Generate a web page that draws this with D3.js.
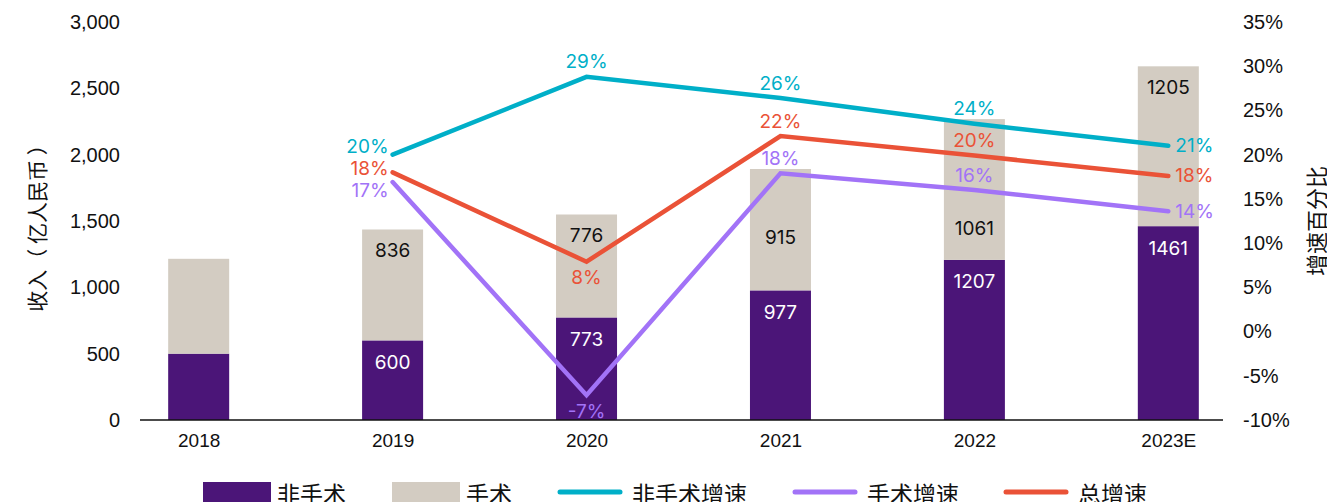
<!DOCTYPE html>
<html>
<head>
<meta charset="utf-8">
<script src="https://cdn.jsdelivr.net/npm/d3@7"></script>
<style>
  html, body { margin: 0; padding: 0; background: #fff; }
  svg { display: block; }
</style>
</head>
<body>
<div id="chart"></div>
<script>
const width = 1327;
const height = 502;

// data (亿人民币 / %)
const years = ["2018", "2019", "2020", "2021", "2022", "2023E"];
const nonSurgical = [500, 600, 773, 977, 1207, 1461];
const surgical = [715, 836, 776, 915, 1061, 1205];
const growthYears = ["2019", "2020", "2021", "2022", "2023E"];
const nonSurgicalGrowth = [20, 28.8, 26.4, 23.5, 21.0];
const surgicalGrowth = [16.9, -7.2, 17.9, 16.0, 13.6];
const totalGrowth = [18.0, 7.9, 22.1, 19.9, 17.6];
const leftTicks = [0, 500, 1000, 1500, 2000, 2500, 3000];
const rightTicks = [-10, -5, 0, 5, 10, 15, 20, 25, 30, 35];

const purple = "#4b1578";
const beige = "#d3ccc2";
const cyan = "#00afc8";
const lavender = "#a273f7";
const red = "#ea5237";

const numFont = "Inter, 'Liberation Sans', sans-serif";
const axisFont = "'Liberation Sans', Arial, sans-serif";
const cjkFont = "'Noto Sans CJK SC', sans-serif";

const svg = d3.select("#chart")
  .append("svg")
  .attr("width", width)
  .attr("height", height);

const x = d3.scalePoint().domain(years).range([140.5, 1226.5]).padding(0.3);
const yL = d3.scaleLinear().domain([0, 3000]).range([420, 22]);
const yR = d3.scaleLinear().domain([-10, 35]).range([420, 22]);
const barW = 61;

// axes (labels only)
svg.append("g")
  .attr("transform", "translate(120,0)")
  .call(d3.axisLeft(yL).tickValues(leftTicks).tickSize(0).tickPadding(0).tickFormat(d3.format(",")))
  .call(g => g.select(".domain").remove())
  .selectAll("text")
  .attr("font-family", axisFont)
  .attr("font-size", 20)
  .attr("fill", "#111");

svg.append("g")
  .attr("transform", "translate(1243,0)")
  .call(d3.axisRight(yR).tickValues(rightTicks).tickSize(0).tickPadding(0).tickFormat(d => d + "%"))
  .call(g => g.select(".domain").remove())
  .selectAll("text")
  .attr("font-family", axisFont)
  .attr("font-size", 20)
  .attr("fill", "#111");

svg.append("g")
  .attr("transform", "translate(0,420)")
  .call(d3.axisBottom(x).tickSize(0).tickPadding(14))
  .call(g => g.select(".domain").remove())
  .selectAll("text")
  .attr("font-family", axisFont)
  .attr("font-size", 19)
  .attr("fill", "#111");

// axis titles
svg.append("text")
  .attr("transform", "translate(36,223) rotate(-90)")
  .attr("text-anchor", "middle")
  .attr("dominant-baseline", "central")
  .attr("font-family", cjkFont)
  .attr("font-size", 21)
  .attr("fill", "#111")
  .text("收入（ 亿人民币 ）");

svg.append("text")
  .attr("transform", "translate(1315,221) rotate(-90)")
  .attr("text-anchor", "middle")
  .attr("dominant-baseline", "central")
  .attr("font-family", cjkFont)
  .attr("font-size", 22)
  .attr("fill", "#111")
  .text("增速百分比");

// stacked bars
const bars = years.map((yr, i) => ({ yr, a: nonSurgical[i], b: surgical[i] }));

svg.append("g").selectAll("rect")
  .data(bars)
  .join("rect")
  .attr("x", d => x(d.yr) - barW / 2)
  .attr("width", barW)
  .attr("y", d => yL(d.a))
  .attr("height", d => yL(0) - yL(d.a))
  .attr("fill", purple);

svg.append("g").selectAll("rect")
  .data(bars)
  .join("rect")
  .attr("x", d => x(d.yr) - barW / 2)
  .attr("width", barW)
  .attr("y", d => yL(d.a + d.b))
  .attr("height", d => yL(d.a) - yL(d.a + d.b))
  .attr("fill", beige);

// baseline
svg.append("line")
  .attr("x1", 140).attr("x2", 1223)
  .attr("y1", 420).attr("y2", 420)
  .attr("stroke", "#111")
  .attr("stroke-width", 1.5);

// bar value labels (2018 has none); some surgical labels pushed down clear of the lines
const extraDrop = { "2021": 48, "2022": 88 };
const labelled = bars.slice(1);

svg.append("g").selectAll("text")
  .data(labelled)
  .join("text")
  .attr("x", d => x(d.yr))
  .attr("y", d => yL(d.a) + 22)
  .attr("text-anchor", "middle")
  .attr("dominant-baseline", "central")
  .attr("font-family", numFont)
  .attr("font-size", 19)
  .attr("fill", "#fff")
  .text(d => d.a);

svg.append("g").selectAll("text")
  .data(labelled)
  .join("text")
  .attr("x", d => x(d.yr))
  .attr("y", d => yL(d.a + d.b) + 21 + (extraDrop[d.yr] || 0))
  .attr("text-anchor", "middle")
  .attr("dominant-baseline", "central")
  .attr("font-family", numFont)
  .attr("font-size", 19)
  .attr("fill", "#111")
  .text(d => d.b);

// growth lines
const series = [
  { values: nonSurgicalGrowth, color: cyan, place: ["left", "above", "above", "above", "right"] },
  { values: totalGrowth, color: red, place: ["leftmid", "below", "above", "above", "right"] },
  { values: surgicalGrowth, color: lavender, place: ["leftlow", "below", "above", "above", "right"] },
];

const line = d3.line()
  .x(d => x(d.yr))
  .y(d => yR(d.v));

series.forEach(s => {
  const pts = growthYears.map((yr, i) => ({ yr, v: s.values[i], place: s.place[i] }));

  svg.append("path")
    .datum(pts)
    .attr("d", line)
    .attr("fill", "none")
    .attr("stroke", s.color)
    .attr("stroke-width", 4.5)
    .attr("stroke-linecap", "round")
    .attr("stroke-linejoin", "miter");

  svg.append("g").selectAll("text")
    .data(pts)
    .join("text")
    .attr("x", d => {
      const cx = x(d.yr);
      if (d.place.startsWith("left")) return cx - 4;
      if (d.place === "right") return cx + 7;
      return cx;
    })
    .attr("y", d => {
      const cy = yR(d.v);
      if (d.place === "above") return cy - 15;
      if (d.place === "below") return cy + 16;
      if (d.place === "left") return cy - 8;
      if (d.place === "leftmid") return cy - 4;
      if (d.place === "leftlow") return cy + 8;
      return cy;
    })
    .attr("text-anchor", d => d.place === "right" ? "start" : d.place.startsWith("left") ? "end" : "middle")
    .attr("dominant-baseline", "central")
    .attr("font-family", numFont)
    .attr("font-size", 19)
    .attr("fill", s.color)
    .text(d => Math.round(d.v) + "%");
});

// legend
const legend = svg.append("g").attr("font-family", cjkFont).attr("font-size", 23).attr("fill", "#111");
const legendItems = [
  { name: "非手术", kind: "rect", color: purple, x: 203 },
  { name: "手术", kind: "rect", color: beige, x: 392 },
  { name: "非手术增速", kind: "line", color: cyan, x: 558 },
  { name: "手术增速", kind: "line", color: lavender, x: 793 },
  { name: "总增速", kind: "line", color: red, x: 1004 },
];

legendItems.forEach(d => {
  if (d.kind === "rect") {
    legend.append("rect")
      .attr("x", d.x).attr("y", 482)
      .attr("width", 68).attr("height", 24)
      .attr("fill", d.color);
  } else {
    legend.append("line")
      .attr("x1", d.x + 2).attr("x2", d.x + 62)
      .attr("y1", 492).attr("y2", 492)
      .attr("stroke", d.color)
      .attr("stroke-width", 5)
      .attr("stroke-linecap", "round");
  }
  legend.append("text")
    .attr("x", d.x + 74)
    .attr("y", 493)
    .attr("dominant-baseline", "central")
    .text(d.name);
});
</script>
</body>
</html>
